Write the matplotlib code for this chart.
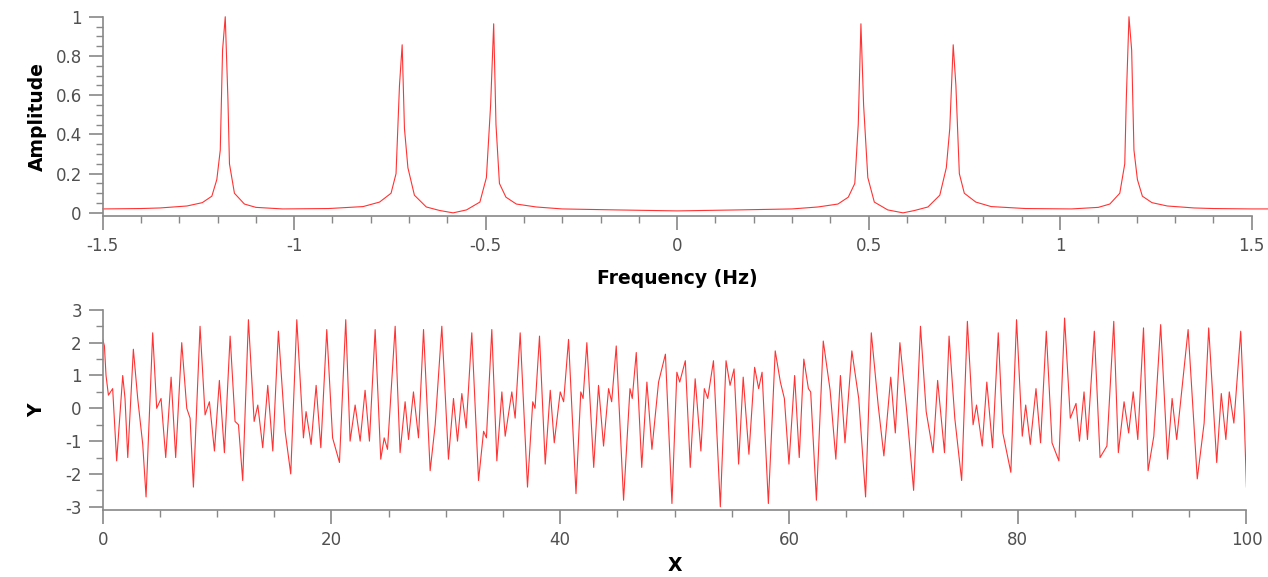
import matplotlib
matplotlib.use('Agg')
import matplotlib.pyplot as plt
from matplotlib.ticker import MultipleLocator
import numpy as np
plt.rcParams['axes.unicode_minus'] = False

# 频谱
freq = [-1.50, -1.40, -1.35, -1.28, -1.24, -1.215, -1.202, -1.193, -1.187, -1.180,
        -1.173, -1.169, -1.156, -1.13, -1.10, -1.03, -0.91, -0.82, -0.777, -0.747,
        -0.734, -0.725, -0.718, -0.712, -0.703, -0.686, -0.655, -0.62, -0.585, -0.55,
        -0.515, -0.498, -0.487, -0.479, -0.473, -0.464, -0.447, -0.42, -0.368, -0.30,
        -0.16, 0.0, 0.16, 0.30, 0.368, 0.42, 0.447, 0.464, 0.473, 0.480,
        0.487, 0.498, 0.515, 0.55, 0.59, 0.62, 0.655, 0.686, 0.703, 0.712,
        0.721, 0.728, 0.737, 0.75, 0.78, 0.82, 0.91, 1.03, 1.10, 1.13,
        1.156, 1.169, 1.173, 1.180, 1.187, 1.193, 1.202, 1.215, 1.24, 1.28,
        1.35, 1.40, 1.50, 1.56]
amp = [0.020, 0.022, 0.025, 0.035, 0.052, 0.085, 0.17, 0.32, 0.83, 1.00,
       0.58, 0.25, 0.10, 0.045, 0.028, 0.020, 0.022, 0.032, 0.055, 0.10,
       0.20, 0.65, 0.857, 0.43, 0.23, 0.09, 0.03, 0.012, 0.0, 0.015,
       0.055, 0.18, 0.55, 0.964, 0.45, 0.15, 0.08, 0.045, 0.03, 0.02,
       0.015, 0.01, 0.015, 0.02, 0.03, 0.045, 0.08, 0.15, 0.45, 0.964,
       0.55, 0.18, 0.055, 0.015, 0.0, 0.012, 0.03, 0.09, 0.23, 0.43,
       0.857, 0.65, 0.20, 0.10, 0.055, 0.032, 0.022, 0.020, 0.028, 0.045,
       0.10, 0.25, 0.58, 1.00, 0.83, 0.32, 0.17, 0.085, 0.052, 0.035,
       0.025, 0.022, 0.020, 0.020]

# 时域信号 (读图估计的折点)
sig_x = [0.0, 0.15, 0.29, 0.5, 0.87, 1.22, 1.75, 1.95, 2.19, 2.68,
         3.06, 3.5, 3.79, 4.37, 4.72, 5.1, 5.51, 5.98, 6.38, 6.91,
         7.35, 7.64, 7.93, 8.51, 8.95, 9.33, 9.77, 10.2, 10.64, 11.14,
         11.57, 11.87, 12.24, 12.74, 13.24, 13.56, 13.99, 14.43, 14.87, 15.36,
         15.95, 16.44, 16.97, 17.41, 17.55, 17.78, 18.22, 18.66, 19.07, 19.59,
         20.1, 20.7, 21.25, 21.63, 22.07, 22.51, 22.94, 23.32, 23.82, 24.31,
         24.61, 24.9, 25.57, 26.0, 26.44, 26.74, 27.17, 27.61, 28.05, 28.63,
         29.07, 29.65, 30.23, 30.67, 31.02, 31.4, 31.78, 32.27, 32.86, 33.3,
         33.55, 34.02, 34.46, 34.9, 35.19, 35.77, 36.06, 36.5, 37.14, 37.6,
         37.8, 38.19, 38.69, 39.13, 39.48, 40.0, 40.3, 40.73, 41.38, 41.8,
         42.0, 42.33, 42.93, 43.35, 43.79, 44.23, 44.5, 44.9, 45.54, 46.1,
         46.3, 46.65, 47.13, 47.58, 48.02, 48.6, 49.2, 49.77, 50.2, 50.45,
         50.94, 51.37, 51.8, 52.3, 52.6, 52.9, 53.4, 54.0, 54.5, 54.85,
         55.2, 55.6, 56.0, 56.5, 57.0, 57.35, 57.65, 58.2, 58.8, 59.25,
         59.6, 60.0, 60.5, 60.9, 61.3, 61.7, 61.9, 62.4, 63.0, 63.6,
         64.1, 64.5, 64.9, 65.5, 66.1, 66.7, 67.2, 67.8, 68.3, 68.9,
         69.3, 69.7, 70.3, 70.9, 71.5, 72.0, 72.6, 73.0, 73.6, 74.0,
         74.5, 75.1, 75.6, 76.1, 76.4, 76.9, 77.3, 77.8, 78.3, 78.7,
         79.4, 79.9, 80.4, 80.7, 81.1, 81.6, 82.0, 82.5, 83.0, 83.6,
         84.1, 84.6, 85.1, 85.4, 85.8, 86.1, 86.7, 87.2, 87.8, 88.4,
         88.8, 89.3, 89.7, 90.1, 90.5, 91.0, 91.4, 91.9, 92.5, 93.1,
         93.5, 93.9, 94.3, 94.9, 95.7, 96.3, 96.7, 97.4, 97.8, 98.2,
         98.5, 98.9, 99.5, 99.8, 100.0]
sig_y = [2.1, 1.9, 1.0, 0.4, 0.6, -1.6, 1.0, 0.3, -1.5, 1.8,
         0.3, -1.1, -2.7, 2.3, 0.0, 0.3, -1.5, 0.95, -1.5, 2.0,
         0.0, -0.3, -2.4, 2.5, -0.2, 0.2, -1.3, 0.85, -1.35, 2.2,
         -0.4, -0.5, -2.2, 2.7, -0.4, 0.1, -1.2, 0.7, -1.3, 2.35,
         -0.7, -2.0, 2.7, 0.0, -0.9, -0.1, -1.1, 0.7, -1.2, 2.4,
         -0.9, -1.65, 2.7, -1.0, 0.1, -1.0, 0.55, -1.0, 2.4, -1.55,
         -0.9, -1.25, 2.5, -1.35, 0.2, -0.95, 0.5, -0.9, 2.4, -1.9,
         -0.5, 2.5, -1.55, 0.3, -1.0, 0.45, -0.6, 2.3, -2.2, -0.7,
         -0.9, 2.4, -1.6, 0.5, -0.85, 0.5, -0.3, 2.3, -2.4, 0.2,
         0.0, 2.2, -1.7, 0.55, -1.05, 0.5, 0.2, 2.1, -2.6, 0.5,
         0.3, 2.0, -1.8, 0.7, -1.15, 0.6, 0.2, 1.9, -2.8, 0.6,
         0.3, 1.7, -1.8, 0.8, -1.25, 0.8, 1.65, -2.9, 1.1, 0.8,
         1.45, -1.8, 0.9, -1.3, 0.6, 0.3, 1.45, -3.0, 1.45, 0.7,
         1.2, -1.7, 0.95, -1.4, 1.25, 0.6, 1.1, -2.9, 1.75, 0.8,
         0.3, -1.7, 1.0, -1.5, 1.5, 0.6, 0.5, -2.8, 2.05, 0.55,
         -1.55, 1.0, -1.05, 1.75, 0.3, -2.7, 2.3, 0.1, -1.45, 0.95,
         -0.75, 2.0, -0.1, -2.5, 2.5, -0.1, -1.35, 0.85, -1.35, 2.2,
         -0.3, -2.2, 2.65, -0.5, 0.1, -1.15, 0.8, -1.2, 2.3, -0.75,
         -1.95, 2.7, -0.85, 0.1, -1.1, 0.6, -1.05, 2.35, -1.05, -1.6,
         2.75, -0.3, 0.15, -1.0, 0.5, -0.95, 2.35, -1.5, -1.15, 2.65,
         -1.35, 0.2, -0.75, 0.5, -0.95, 2.45, -1.9, -0.85, 2.55, -1.55,
         0.3, -0.95, 0.4, 2.4, -2.15, -0.45, 2.45, -1.65, 0.45, -0.95,
         0.5, -0.45, 2.35, -0.2, -2.4]

gray = '#888888'
lab_font = {'size': 13.5, 'weight': 'bold'}

def style_ax(ax):
    for s in ['top', 'right']:
        ax.spines[s].set_visible(False)
    for s in ['left', 'bottom']:
        ax.spines[s].set_color(gray)
        ax.spines[s].set_linewidth(1.2)
    ax.tick_params(which='major', length=10, width=1.2, color=gray,
                   labelsize=12, labelcolor='#505050', pad=5)
    ax.tick_params(which='minor', length=5, width=1.0, color=gray)

fig = plt.figure(figsize=(12.68, 5.77), dpi=100)

# 上图: 频谱
ax1 = fig.add_axes([0.081, 0.626, 0.906, 0.345])
ax1.plot(freq, amp, color='red', lw=0.8, alpha=0.8, clip_on=False)
ax1.set_xlim(-1.5, 1.5)
ax1.set_ylim(-0.015, 1.0)
ax1.xaxis.set_minor_locator(MultipleLocator(0.1))
ax1.yaxis.set_minor_locator(MultipleLocator(0.05))
ax1.set_xticks([-1.5, -1, -0.5, 0, 0.5, 1, 1.5])
ax1.set_xticklabels(['-1.5', '-1', '-0.5', '0', '0.5', '1', '1.5'])
ax1.set_yticks([0, 0.2, 0.4, 0.6, 0.8, 1])
ax1.set_yticklabels(['0', '0.2', '0.4', '0.6', '0.8', '1'])
style_ax(ax1)
ax1.set_xlabel('Frequency (Hz)', fontdict=lab_font, labelpad=10)
ax1.set_ylabel('Amplitude', fontdict=lab_font, labelpad=6)

# 下图: 时域信号
ax2 = fig.add_axes([0.081, 0.116, 0.902, 0.347])
ax2.plot(sig_x, sig_y, color='red', lw=0.8, alpha=0.8)
ax2.set_xlim(0, 100)
ax2.set_ylim(-3.1, 3)
ax2.xaxis.set_major_locator(MultipleLocator(20))
ax2.xaxis.set_minor_locator(MultipleLocator(5))
ax2.yaxis.set_major_locator(MultipleLocator(1))
ax2.yaxis.set_minor_locator(MultipleLocator(0.5))
style_ax(ax2)
ax2.set_xlabel('X', fontdict=lab_font, labelpad=5)
ax2.set_ylabel('Y', fontdict=lab_font, labelpad=14)

plt.savefig('out.png', dpi=100)
